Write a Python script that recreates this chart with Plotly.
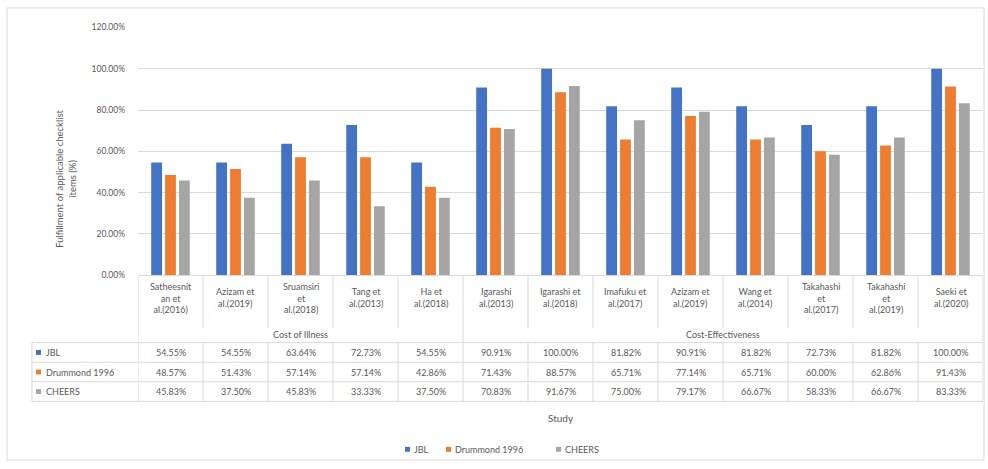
import plotly.graph_objects as go

studies = [
    "Satheesnit<br>an et<br>al.(2016)", "Azizam et<br>al.(2019)", "Sruamsiri<br>et<br>al.(2018)",
    "Tang et<br>al.(2013)", "Ha et<br>al.(2018)", "Igarashi<br>al.(2013)", "Igarashi et<br>al.(2018)",
    "Imafuku et<br>al.(2017)", "Azizam et<br>al.(2019)", "Wang et<br>al.(2014)",
    "Takahashi<br>et<br>al.(2017)", "Takahashi<br>et<br>al.(2019)", "Saeki et<br>al.(2020)",
]
groups = ["Cost of Illness", "Cost-Effectiveness"]
group_sizes = [5, 8]
series_names = ["JBL", "Drummond 1996", "CHEERS"]
jbl = [54.55, 54.55, 63.64, 72.73, 54.55, 90.91, 100.00, 81.82, 90.91, 81.82, 72.73, 81.82, 100.00]
drummond = [48.57, 51.43, 57.14, 57.14, 42.86, 71.43, 88.57, 65.71, 77.14, 65.71, 60.00, 62.86, 91.43]
cheers = [45.83, 37.50, 45.83, 33.33, 37.50, 70.83, 91.67, 75.00, 79.17, 66.67, 58.33, 66.67, 83.33]
y_ticks = [0, 20, 40, 60, 80, 100, 120]

colors = ["#4472C4", "#ED7D31", "#A5A5A5"]
W, H = 988, 469
FONT = "Lato, Liberation Sans, sans-serif"
TXT = "#595959"
LINE = "#d9d9d9"

def py(y):
    return 1 - y / H

def px(x):
    return x / W

xs = list(range(len(studies)))
fig = go.Figure()
for name, vals, c in zip(series_names, [jbl, drummond, cheers], colors):
    fig.add_trace(go.Bar(x=xs, y=[v / 100 for v in vals], name=name, marker_color=c,
                         marker_line_width=0, showlegend=False))

shapes = []
annotations = []
# chart border
shapes.append(dict(type="rect", xref="paper", yref="paper", x0=px(7), x1=px(984), y0=py(465), y1=py(3),
                   line=dict(color=LINE, width=1)))
# category labels
for i, s in enumerate(studies):
    annotations.append(dict(x=i, y=py(299), xref="x", yref="paper", text=s, showarrow=False,
                            font=dict(size=9, color=TXT, family=FONT), align="center",
                            yanchor="middle"))
# group labels & dividers
start = 0
bounds = [start]
for g, n in zip(groups, group_sizes):
    center = start + (n - 1) / 2
    annotations.append(dict(x=center, y=py(337), xref="x", yref="paper", text=g, showarrow=False,
                            font=dict(size=9, color=TXT, family=FONT), yanchor="middle"))
    start += n
    bounds.append(start)
group_edges = set(b - 0.5 for b in bounds)
for i in range(len(studies) + 1):
    xe = i - 0.5
    if xe in group_edges:
        shapes.append(dict(type="line", xref="x", yref="paper", x0=xe, x1=xe, y0=py(276), y1=py(405),
                           line=dict(color=LINE, width=1)))
    else:
        shapes.append(dict(type="line", xref="x", yref="paper", x0=xe, x1=xe, y0=py(276), y1=py(330),
                           line=dict(color=LINE, width=1)))
        shapes.append(dict(type="line", xref="x", yref="paper", x0=xe, x1=xe, y0=py(345), y1=py(405),
                           line=dict(color=LINE, width=1)))
# table rows
row_tops = [345, 365, 385, 405]
for yl in row_tops:
    shapes.append(dict(type="line", xref="paper", yref="paper", x0=px(32), x1=px(983), y0=py(yl), y1=py(yl),
                       line=dict(color=LINE, width=1)))
shapes.append(dict(type="line", xref="paper", yref="paper", x0=px(32), x1=px(32), y0=py(345), y1=py(405),
                   line=dict(color=LINE, width=1)))
for r, (name, vals, c) in enumerate(zip(series_names, [jbl, drummond, cheers], colors)):
    yc = (row_tops[r] + row_tops[r + 1]) / 2
    shapes.append(dict(type="rect", xref="paper", yref="paper", x0=px(36), x1=px(41), y0=py(yc + 2.5),
                       y1=py(yc - 2.5), fillcolor=c, line=dict(width=0)))
    annotations.append(dict(x=px(44), y=py(yc), xref="paper", yref="paper", text=name, showarrow=False,
                            xanchor="left", yanchor="middle", font=dict(size=9, color=TXT, family=FONT)))
    for i, v in enumerate(vals):
        annotations.append(dict(x=i, y=py(yc), xref="x", yref="paper", text=f"{v:.2f}%", showarrow=False,
                                yanchor="middle", font=dict(size=9, color=TXT, family=FONT)))
# bottom legend
leg_x = [405, 446, 556]
for name, c, lx in zip(series_names, colors, leg_x):
    shapes.append(dict(type="rect", xref="paper", yref="paper", x0=px(lx), x1=px(lx + 5), y0=py(456.5),
                       y1=py(451.5), fillcolor=c, line=dict(width=0)))
    annotations.append(dict(x=px(lx + 7), y=py(454), xref="paper", yref="paper", text=name, showarrow=False,
                            xanchor="left", yanchor="middle", font=dict(size=9, color=TXT, family=FONT)))
# axis titles
annotations.append(dict(x=px(52), y=py(178), xref="paper", yref="paper",
                        text="Fulfillment of applicable checklist<br>items (%)", showarrow=False,
                        textangle=-90, font=dict(size=9.5, color=TXT, family=FONT), align="center"))
annotations.append(dict(x=px(561), y=py(430), xref="paper", yref="paper", text="Study", showarrow=False,
                        font=dict(size=10, color=TXT, family=FONT)))

fig.update_layout(
    width=W, height=H, margin=dict(l=0, r=0, t=0, b=0),
    paper_bgcolor="white", plot_bgcolor="white",
    barmode="group", bargap=0.36, bargroupgap=0.22, showlegend=False,
    font=dict(family=FONT, color=TXT, size=9),
    xaxis=dict(domain=[px(138), px(983)], range=[-0.5, len(studies) - 0.5], showticklabels=False,
               showgrid=False, zeroline=False, showline=True, linecolor=LINE, ticks=""),
    yaxis=dict(domain=[py(276), py(23)], range=[0, 1.2], tickvals=[t / 100 for t in y_ticks],
               tickformat=".2%", showgrid=True, gridcolor=LINE, zeroline=False, showline=False,
               ticks="", ticklabelstandoff=12, tickfont=dict(size=8.5, color=TXT, family=FONT)),
    shapes=shapes, annotations=annotations,
)
fig.write_html("out.html")
